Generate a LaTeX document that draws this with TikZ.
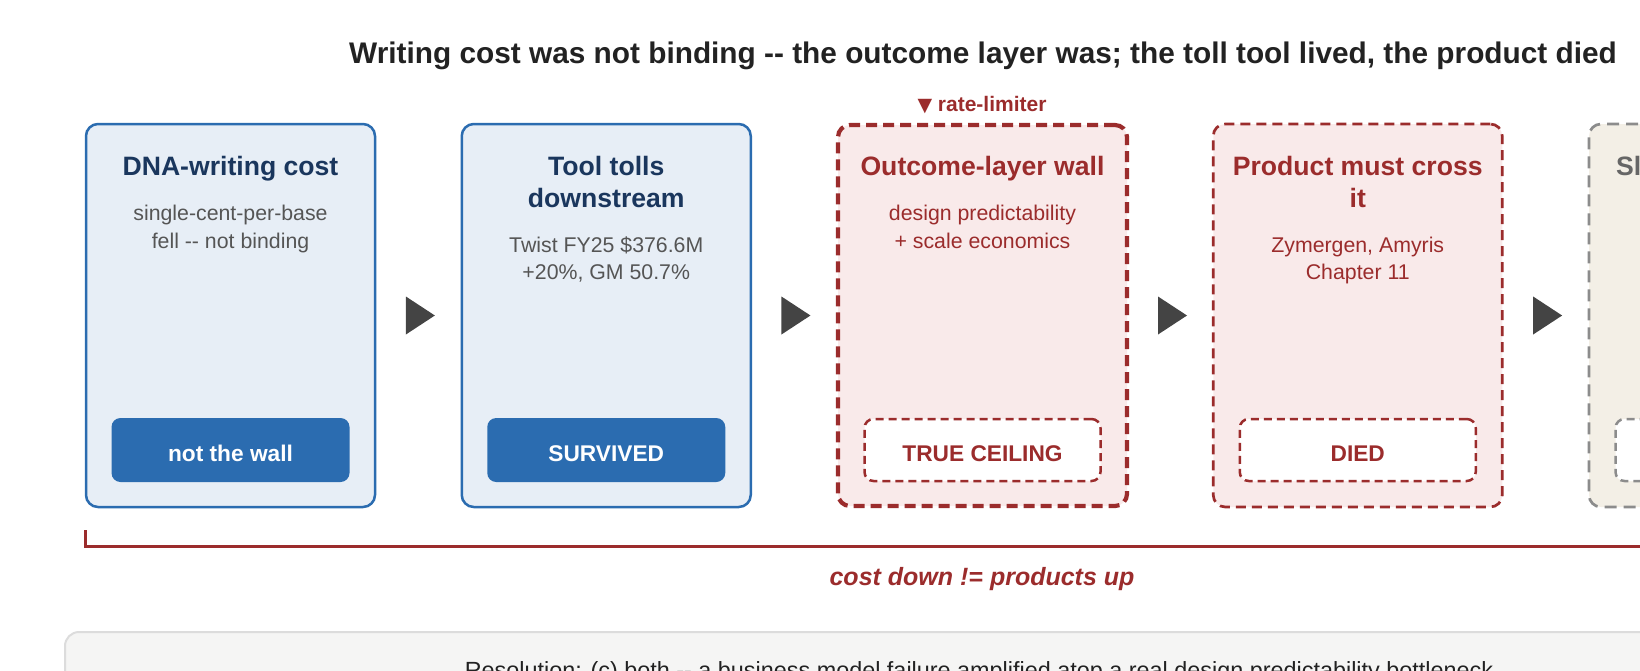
\documentclass[tikz,border=0pt]{standalone}
\usepackage{fontspec}
\setmainfont{Liberation Sans}
\newfontfamily\symfont{DejaVu Sans}
\usetikzlibrary{calc}
\definecolor{cblue}{HTML}{2B6CB0}
\definecolor{cbluefill}{HTML}{E7EEF6}
\definecolor{cnavy}{HTML}{1A365D}
\definecolor{cgraytxt}{HTML}{555555}
\definecolor{cred}{HTML}{9B2C2C}
\definecolor{credfill}{HTML}{F9EAEA}
\definecolor{carrow}{HTML}{444444}
\definecolor{cgrayb}{HTML}{8C8C8C}
\definecolor{cbeige}{HTML}{F3EFE6}
\definecolor{cgraytitle}{HTML}{666666}
\definecolor{cpanel}{HTML}{F5F5F4}
\definecolor{cpanelb}{HTML}{DCDCDC}
\definecolor{ctitle}{HTML}{222222}
\newcommand\ftMain{\fontsize{29.8}{34}\selectfont\bfseries}
\newcommand\ftHead{\fontsize{26.6}{32}\selectfont\bfseries}
\newcommand\ftSub{\fontsize{21.3}{27}\selectfont}
\newcommand\ftBadge{\fontsize{22.7}{27}\selectfont\bfseries}
\begin{document}
\begin{tikzpicture}[x=1pt,y=-1pt,
  txt/.style={anchor=base, inner sep=0pt, outer sep=0pt},
  bluebox/.style={draw=cblue, line width=2.5pt, fill=cbluefill, rounded corners=12pt, minimum width=289pt, minimum height=383pt, inner sep=0pt},
  redbox/.style={draw=cred, line width=4.2pt, dash pattern=on 11pt off 6pt, fill=credfill, rounded corners=12pt, minimum width=289pt, minimum height=381pt, inner sep=0pt},
  redboxthin/.style={draw=cred, line width=2.7pt, dash pattern=on 10pt off 6pt, fill=credfill, rounded corners=12pt, minimum width=289pt, minimum height=383pt, inner sep=0pt},
  graybox/.style={draw=cgrayb, line width=2.7pt, dash pattern=on 12pt off 7pt, fill=cbeige, rounded corners=12pt, minimum width=289pt, minimum height=383pt, inner sep=0pt},
  badgefill/.style={fill=cblue, rounded corners=9pt, minimum width=238pt, minimum height=64pt, inner sep=0pt, text=white, font=\ftBadge, text height=22.3pt, text depth=0pt},
  badgered/.style={draw=cred, line width=2.5pt, dash pattern=on 8pt off 5pt, fill=white, rounded corners=9pt, minimum width=236pt, minimum height=62pt, inner sep=0pt, text=cred, font=\ftBadge, text height=22.3pt, text depth=0pt},
  badgegray/.style={draw=cgrayb, line width=2.5pt, dash pattern=on 8pt off 5pt, fill=white, rounded corners=9pt, minimum width=236pt, minimum height=62pt, inner sep=0pt},
  headblue/.style={txt, font=\ftHead, text=cnavy},
  headred/.style={txt, font=\ftHead, text=cred},
  subgray/.style={txt, font=\ftSub, text=cgraytxt},
  subred/.style={txt, font=\ftSub, text=cred},
  tri/.style={fill=carrow}
]
\useasboundingbox (0,0) rectangle (1640,670);
\clip (0,0) rectangle (1640,670);

% title
\node[txt, font=\ftMain, text=ctitle] (title) at (983,63) {Writing cost was not binding -{}- the outcome layer was; the toll tool lived, the product died};

% rate-limiter label
\node[txt, font=\fontsize{21}{25}\selectfont\bfseries, text=cred] (rl) at (982,111.5) {{\symfont\fontsize{19}{22}\selectfont ▼}\ rate-limiter};

% boxes
\node[bluebox] (b1) at (230.5,315.5) {};
\node[bluebox] (b2) at (606.25,315.5) {};
\node[redbox] (b3) at (982.5,315.5) {};
\node[redboxthin] (b4) at (1357.75,315.5) {};
\node[graybox] (b5) at (1733.5,315.5) {};

% box 1
\node[headblue] (h1) at (230.5,175) {DNA-writing cost};
\node[subgray] (s1a) at (230.5,220) {single-cent-per-base};
\node[subgray] (s1b) at (230.5,248) {fell -{}- not binding};
\node[badgefill] (g1) at (230.5,450) {not the wall};

% box 2
\node[headblue] (h2a) at (606.25,175) {Tool tolls};
\node[headblue] (h2b) at (606.25,207) {downstream};
\node[subgray] (s2a) at (606.25,252) {Twist FY25 \$376.6M};
\node[subgray] (s2b) at (606.25,279.5) {+20\%, GM 50.7\%};
\node[badgefill] (g2) at (606.25,450) {SURVIVED};

% box 3
\node[headred] (h3) at (982.5,175) {Outcome-layer wall};
\node[subred] (s3a) at (982.5,220) {design predictability};
\node[subred] (s3b) at (982.5,248) {+ scale economics};
\node[badgered] (g3) at (982.5,450) {TRUE CEILING};

% box 4
\node[headred] (h4a) at (1357.75,175) {Product must cross};
\node[headred] (h4b) at (1357.75,207) {it};
\node[subred] (s4a) at (1357.75,252) {Zymergen, Amyris};
\node[subred] (s4b) at (1357.75,279.5) {Chapter 11};
\node[badgered] (g4) at (1357.75,450) {DIED};

% box 5 (cut off)
\node[txt, anchor=base west, font=\ftHead, text=cgraytitle] (h5) at (1616,175) {Sl};
\node[badgegray] (g5) at (1733.5,450) {};

% arrows
\foreach \a/\b in {b1/b2,b2/b3,b3/b4,b4/b5}{
  \coordinate (m-\a) at ($(\a.east)!0.5!(\b.west)+(2,0)$);
  \fill[tri] ($(m-\a)+(-14.5,-19)$) -- ($(m-\a)+(14.5,0)$) -- ($(m-\a)+(-14.5,19)$) -- cycle;
}

% bracket
\coordinate (bk1) at (85,530);
\coordinate (bk2) at (85,546.5);
\coordinate (bk3) at (1700,546.5);
\draw[cred, line width=3pt] (bk1) -- (bk2) -- (bk3);
\node[txt, font=\fontsize{25}{30}\selectfont\bfseries\itshape, text=cred] (brl) at (982,585) {cost down != products up};

% bottom panel
\draw[fill=cpanel, draw=cpanelb, line width=2pt, rounded corners=14pt] (65,632) rectangle (1720,780);
\node[txt, font=\fontsize{23.4}{28}\selectfont, text=ctitle] (res) at (979,678) {Resolution: (c) both -{}- a business model failure amplified atop a real design predictability bottleneck};
\end{tikzpicture}
\end{document}
